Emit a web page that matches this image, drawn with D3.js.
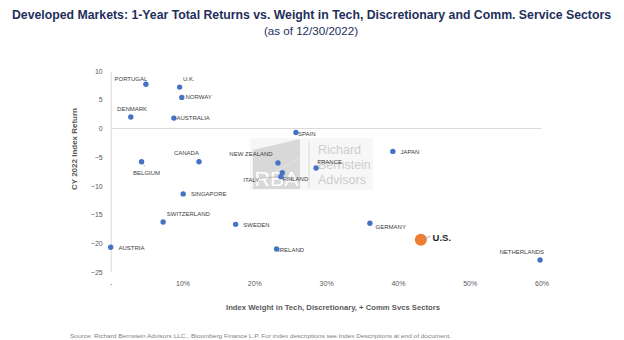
<!DOCTYPE html>
<html>
<head>
<meta charset="utf-8">
<script src="https://cdn.jsdelivr.net/npm/d3@7/dist/d3.min.js"></script>
<style>
  body { margin: 0; background: #fff; }
  svg { display: block; }
</style>
</head>
<body>
<svg id="chart"></svg>
<script>
const width = 624;
const height = 340;

// data
const countries = ['PORTUGAL', 'U.K.', 'NORWAY', 'DENMARK', 'AUSTRALIA', 'BELGIUM', 'CANADA', 'SINGAPORE',
  'SPAIN', 'NEW ZEALAND', 'FINLAND', 'ITALY', 'FRANCE', 'JAPAN', 'SWITZERLAND', 'SWEDEN', 'GERMANY',
  'AUSTRIA', 'IRELAND', 'U.S.', 'NETHERLANDS'];
const techWeight = [4.9, 9.6, 9.9, 2.8, 8.8, 4.3, 12.3, 10.1, 25.8, 23.3, 23.9, 23.7, 28.6, 39.3, 7.3, 17.4,
  36.1, 0.0, 23.1, 43.2, 59.8];
const indexReturn = [7.7, 7.2, 5.4, 2.0, 1.8, -5.8, -5.8, -11.4, -0.7, -6.0, -7.7, -8.4, -6.9, -4.0, -16.3,
  -16.7, -16.5, -20.7, -21.0, -19.4, -22.9];
const xTicks = [0, 10, 20, 30, 40, 50, 60];
const yTicks = [10, 5, 0, -5, -10, -15, -20, -25];

const highlight = 'U.S.';

// label placement: [anchor, dx, dy]
const labelPos = {
  'PORTUGAL': ['end', 1.5, -3.5],
  'U.K.': ['start', 3.4, -5.8],
  'NORWAY': ['start', 3.7, 1.6],
  'DENMARK': ['middle', 1.3, -5.5],
  'AUSTRALIA': ['start', 2.6, 2.2],
  'BELGIUM': ['middle', 5, 12.8],
  'CANADA': ['middle', -12.6, -6.8],
  'SINGAPORE': ['start', 7.7, 2.2],
  'SPAIN': ['start', 2, 3.2],
  'NEW ZEALAND': ['end', -5.3, -6.8],
  'FINLAND': ['start', 0.3, 8.8],
  'ITALY': ['end', -21.7, 5],
  'FRANCE': ['start', 1.3, -3.8],
  'JAPAN': ['start', 7.7, 2.5],
  'SWITZERLAND': ['start', 3.7, -6.4],
  'SWEDEN': ['start', 7.7, 2.5],
  'GERMANY': ['start', 5.7, 5.9],
  'AUSTRIA': ['start', 7.7, 2.2],
  'IRELAND': ['start', 1.5, 2.6],
  'U.S.': ['start', 11.7, 1.2],
  'NETHERLANDS': ['middle', -18.3, -6.1],
};

const points = countries.map((c, i) => ({ name: c, x: techWeight[i], y: indexReturn[i] }));

const svg = d3.select('#chart').attr('width', width).attr('height', height);
const font = 'Liberation Sans, Arial, sans-serif';

const x = d3.scaleLinear().domain([0, 60]).range([110.7, 541.5]);
const y = d3.scaleLinear().domain([-25, 10]).range([272, 71]);

// title
svg.append('text')
  .attr('x', 12).attr('y', 19)
  .attr('textLength', 599).attr('lengthAdjust', 'spacingAndGlyphs')
  .style('font', `bold 12.5px ${font}`).attr('fill', '#1f2f5c')
  .text('Developed Markets: 1-Year Total Returns vs. Weight in Tech, Discretionary and Comm. Service Sectors');

svg.append('text')
  .attr('x', 311).attr('y', 35).attr('text-anchor', 'middle')
  .attr('textLength', 94).attr('lengthAdjust', 'spacingAndGlyphs')
  .style('font', `10px ${font}`).attr('fill', '#1f2f5c')
  .text('(as of 12/30/2022)');

// watermark
const wm = svg.append('g');
wm.append('rect').attr('x', 250).attr('y', 138).attr('width', 123).attr('height', 52)
  .attr('fill', '#f3f3f3').attr('opacity', 0.7);
wm.append('polygon').attr('points', '253,150 300,139 300,189 253,189')
  .attr('fill', '#cfcfcf').attr('opacity', 0.8);
wm.append('line').attr('x1', 253).attr('y1', 185).attr('x2', 300).attr('y2', 158)
  .attr('stroke', '#e6e6e6').attr('stroke-width', 0.8);
wm.append('text').attr('x', 276.5).attr('y', 186).attr('text-anchor', 'middle')
  .attr('textLength', 44).attr('lengthAdjust', 'spacingAndGlyphs')
  .style('font', `300 21px ${font}`).attr('fill', '#fff').text('RBA');
wm.append('line').attr('x1', 309).attr('y1', 142).attr('x2', 309).attr('y2', 188)
  .attr('stroke', '#d2d2d2').attr('stroke-width', 0.8);
['Richard', 'Bernstein', 'Advisors'].forEach((t, i) => {
  wm.append('text').attr('x', 318).attr('y', 153.5 + i * 15)
    .style('font', `12.5px ${font}`).attr('fill', '#cdcdcd').text(t);
});

// axes
const yAxis = svg.append('g')
  .attr('transform', `translate(${x(0)},0)`)
  .call(d3.axisLeft(y).tickValues(yTicks).tickSize(0).tickSizeOuter(0).tickPadding(8));
yAxis.select('.domain').attr('stroke', '#d9d9d9').attr('stroke-width', 1);
yAxis.selectAll('text').style('font', `7px ${font}`).attr('fill', '#595959');

const xAxis = svg.append('g')
  .attr('transform', `translate(0,${y(-25)})`)
  .call(d3.axisBottom(x).tickValues(xTicks).tickSize(0).tickPadding(9)
    .tickFormat(d => d === 0 ? '-' : d + '%'));
xAxis.select('.domain').remove();
xAxis.selectAll('text').style('font', `7px ${font}`).attr('fill', '#595959');

svg.append('line')
  .attr('x1', x(0)).attr('x2', x(60)).attr('y1', y(0)).attr('y2', y(0))
  .attr('stroke', '#d9d9d9').attr('stroke-width', 1);

// axis titles
svg.append('text')
  .attr('transform', 'translate(77,149) rotate(-90)')
  .attr('text-anchor', 'middle')
  .attr('textLength', 82).attr('lengthAdjust', 'spacingAndGlyphs')
  .style('font', `bold 7.5px ${font}`).attr('fill', '#595959')
  .text('CY 2022 Index Return');

svg.append('text')
  .attr('x', 333).attr('y', 310).attr('text-anchor', 'middle')
  .attr('textLength', 214).attr('lengthAdjust', 'spacingAndGlyphs')
  .style('font', `bold 7.5px ${font}`).attr('fill', '#595959')
  .text('Index Weight in Tech, Discretionary, + Comm Svcs Sectors');

// leader lines
const leader = (name, x1, y1, x2, y2) => {
  const p = points.find(d => d.name === name);
  svg.append('line')
    .attr('x1', x(p.x) + x1).attr('y1', y(p.y) + y1)
    .attr('x2', x(p.x) + x2).attr('y2', y(p.y) + y2)
    .attr('stroke', '#a6a6a6').attr('stroke-width', 0.6);
};
leader('BELGIUM', 0, 0, 3.5, 4.5);
leader('ITALY', -21, 1.5, 0, 0);
leader('U.S.', 0, 0, 9.5, -3.5);

// labels
svg.append('g').selectAll('text')
  .data(points)
  .join('text')
  .attr('x', d => x(d.x) + labelPos[d.name][1])
  .attr('y', d => y(d.y) + labelPos[d.name][2])
  .attr('text-anchor', d => labelPos[d.name][0])
  .style('font', d => d.name === highlight ? `bold 9.5px ${font}` : `6px ${font}`)
  .attr('fill', d => d.name === highlight ? '#262626' : '#404040')
  .text(d => d.name);

// dots
svg.append('g').selectAll('circle')
  .data(points)
  .join('circle')
  .attr('cx', d => x(d.x))
  .attr('cy', d => y(d.y))
  .attr('r', d => d.name === highlight ? 6 : 2.7)
  .attr('fill', d => d.name === highlight ? '#ed7d31' : '#4472c4');

// re-draw US leader over its dot
leader('U.S.', 0, 0, 9.5, -3.5);

// footer
svg.append('text')
  .attr('x', 70).attr('y', 338)
  .attr('textLength', 381).attr('lengthAdjust', 'spacingAndGlyphs')
  .style('font', `6px ${font}`).attr('fill', '#7f7f7f')
  .text('Source: Richard Bernstein Advisors LLC., Bloomberg Finance L.P. For index descriptions see Index Descriptions at end of document.');
</script>
</body>
</html>
